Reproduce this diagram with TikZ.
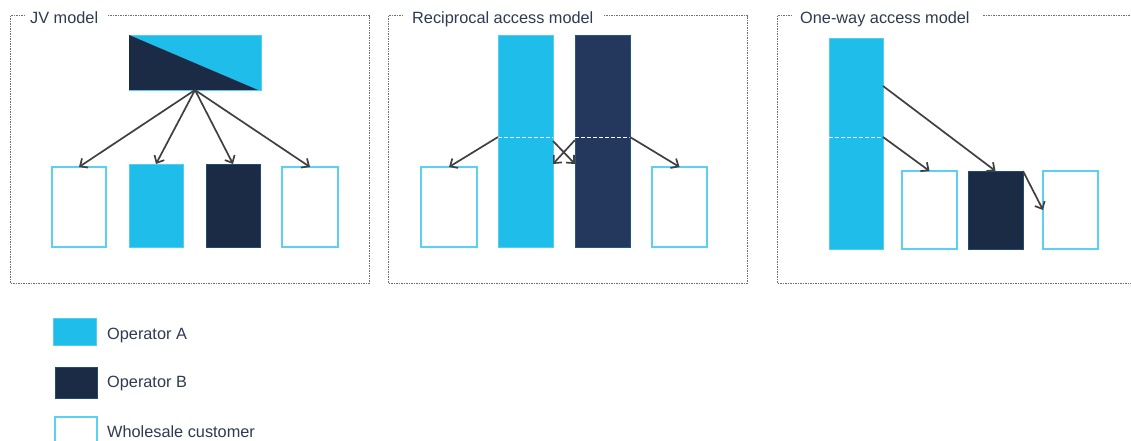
\documentclass[tikz,border=0pt]{standalone}
\usepackage{fontspec}
\setmainfont{Liberation Sans}
\usetikzlibrary{arrows.meta}
\definecolor{opa}{HTML}{1EBDEA}
\definecolor{opb}{HTML}{1B2A45}
\definecolor{opbb}{HTML}{24375C}
\definecolor{wsb}{HTML}{5CCFF2}
\definecolor{txt}{HTML}{2E3B52}
\definecolor{arr}{HTML}{404040}
\definecolor{frm}{HTML}{707070}
\newcommand\mkbox[6]{\node[#1,minimum width={(#5-#3)*1pt},minimum height={(#6-#4)*1pt}] (#2) at ({(#3+#5)/2},{(#4+#6)/2}) {};}
\begin{document}
\begin{tikzpicture}[x=1pt,y=-1pt,
  box/.style={rectangle,inner sep=0pt,outer sep=0pt,line width=0.9pt},
  abox/.style={box,fill=opa,draw=opa!75!white},
  bbox/.style={box,fill=opb,draw=opb!75!opa},
  bbbox/.style={box,fill=opbb,draw=opbb!75!opa},
  wbox/.style={box,fill=white,draw=wsb,line width=1.2pt},
  conn/.style={draw=arr,line width=1.7pt,-{Straight Barb[length=6pt,width=11pt]}},
  frame/.style={draw=frm,line width=1pt,dash pattern=on 1.5pt off 1pt},
  ttl/.style={text=txt,font=\fontsize{16.3}{18}\selectfont,inner sep=0pt,anchor=base west},
  split/.style={draw=white,line width=0.8pt,dash pattern=on 4pt off 2pt}]
\useasboundingbox (0,0) rectangle (1131,441);
\fill[white] (0,0) rectangle (1131,441);

% ---------- JV model ----------
\draw[frame] (25,16) -- (10,16) -- (10,283) -- (369,283) -- (369,16) -- (108,16);
\node[ttl] (t1) at (30,24) {JV model};
\mkbox{abox}{jv}{129}{35}{261}{90}
\fill[opb] (jv.north west) -- (jv.south west) -- ([xshift=-3pt]jv.south east) -- cycle;
\mkbox{wbox}{j1}{52}{167}{106}{247}
\mkbox{abox}{j2}{129}{164}{183}{247}
\mkbox{bbox}{j3}{206}{164}{260}{247}
\mkbox{wbox}{j4}{282}{167}{338}{247}
\draw[conn] (jv.south) -- (j1.north);
\draw[conn] (jv.south) -- (j2.north);
\draw[conn] (jv.south) -- (j3.north);
\draw[conn] (jv.south) -- (j4.north);

% ---------- Reciprocal access model ----------
\draw[frame] (403,16) -- (388,16) -- (388,283) -- (747,283) -- (747,16) -- (604,16);
\node[ttl] (t2) at (412,24) {Reciprocal access model};
\mkbox{abox}{ra}{498}{35}{553}{247}
\mkbox{bbbox}{rb}{575}{35}{630}{247}
\mkbox{wbox}{rl}{421}{167}{477}{247}
\mkbox{wbox}{rr}{652}{167}{707}{247}
\draw[split] (ra.west |- 0,137) -- (ra.east |- 0,137);
\draw[split] (rb.west |- 0,137) -- (rb.east |- 0,137);
\draw[conn] (ra.west |- 0,137) -- (rl.north);
\draw[conn] (rb.east |- 0,137) -- (rr.north);
\draw[conn] (ra.east |- 0,141) -- (rb.west |- 0,164);
\draw[conn] (rb.west |- 0,140) -- (ra.east |- 0,164);

% ---------- One-way access model ----------
\draw[frame] (792,16) -- (777,16) -- (777,283) -- (1131,283);
\draw[frame] (983,16) -- (1131,16);
\node[ttl] (t3) at (800,24) {One-way access model};
\mkbox{abox}{oa}{829}{38}{883}{249}
\mkbox{wbox}{o1}{902}{171}{957}{249}
\mkbox{bbox}{ob}{968}{171}{1023}{249}
\mkbox{wbox}{o2}{1043}{171}{1098}{249}
\draw[split] (oa.west |- 0,137) -- (oa.east |- 0,137);
\draw[conn] (oa.east |- 0,86) -- (ob.north);
\draw[conn] (oa.east |- 0,137) -- (o1.north);
\draw[conn] (ob.north east) -- (o2.west);

% ---------- Legend ----------
\mkbox{abox}{la}{53}{318}{96}{345}
\node[ttl] (lta) at (107,339) {Operator A};
\mkbox{bbox}{lb}{55}{367}{97}{398}
\node[ttl] (ltb) at (107,387) {Operator B};
\mkbox{wbox}{lw}{55}{417}{97}{448}
\node[ttl] (ltw) at (107,437) {Wholesale customer};
\end{tikzpicture}
\end{document}
